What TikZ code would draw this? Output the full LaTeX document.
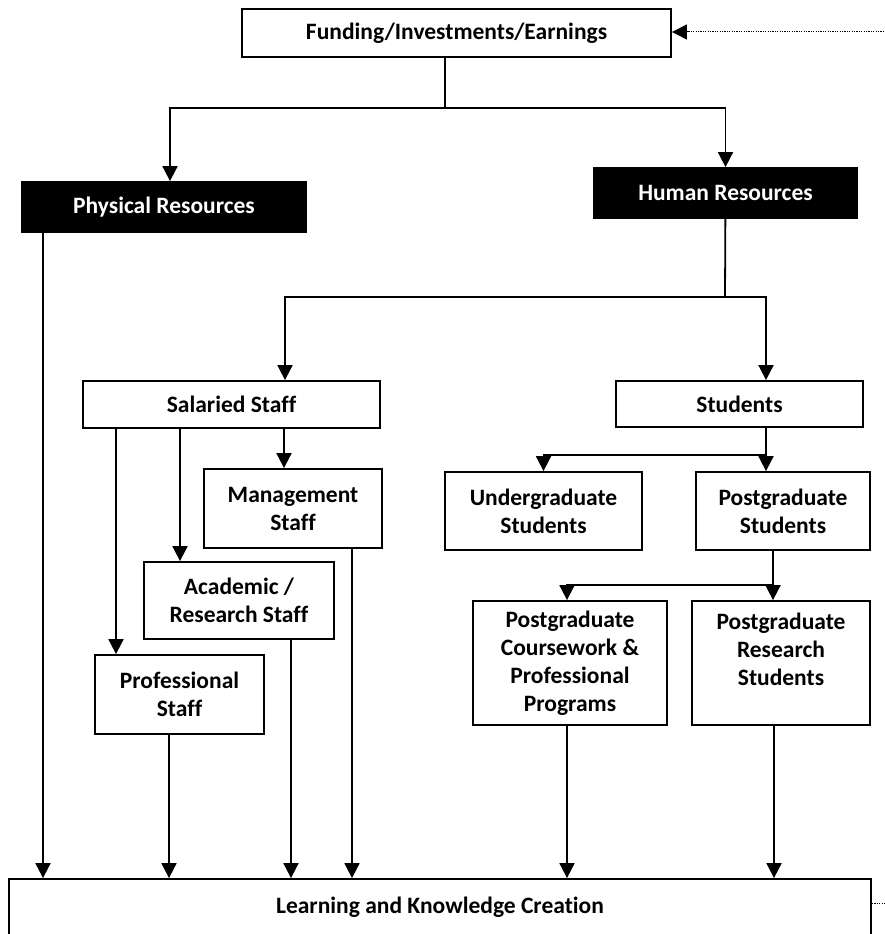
\documentclass[tikz,border=0pt]{standalone}
\usepackage{fontspec}
\setmainfont{Carlito}[Ligatures=NoCommon]
\usetikzlibrary{arrows.meta,positioning}

\tikzset{
	box/.style={draw=black, line width=1.8pt, align=center, inner sep=0pt, font=\bfseries\fontsize{23.5}{28}\selectfont},
	darkbox/.style={box, fill=black, text=white},
	arr/.style={line width=1.8pt, -{Triangle[length=15pt,width=15pt]}},
	link/.style={line width=1.8pt},
	dots/.style={line width=1pt, dash pattern=on 1.2pt off 1.2pt}
}

\begin{document}
\begin{tikzpicture}[x=1pt,y=-1pt]
	\useasboundingbox (0,0) rectangle (884,934);
	\node[box, minimum width=429, minimum height=48] (fund) at (456.5,33) {Funding/Investments/Earnings};
	\node[darkbox, minimum width=284, minimum height=50] (phys) at (164,207) {Physical Resources};
	\node[darkbox, minimum width=263, minimum height=50] (human) at (725.5,193) {Human Resources};
	\node[box, minimum width=297, minimum height=47] (sal) at (231.5,404.5) {Salaried Staff};
	\node[box, minimum width=247, minimum height=46] (stud) at (739.5,404) {Students};
	\node[box, minimum width=178, minimum height=79] (mgmt) at (293,508.5) {Management\\Staff};
	\node[box, minimum width=190, minimum height=77] (acad) at (239,600.5) {Academic /\\Research Staff};
	\node[box, minimum width=169, minimum height=79] (prof) at (179.5,694.5) {Professional\\Staff};
	\node[box, minimum width=197, minimum height=78] (ug) at (543.5,511) {Undergraduate\\Students};
	\node[box, minimum width=174, minimum height=78] (pg) at (783,511) {Postgraduate\\Students};
	\node[box, minimum width=194, minimum height=124] (pgc) at (570,663) {Postgraduate\\Coursework \&\\Professional\\Programs};
	\node[box, minimum width=178, minimum height=124] (pgr) at (781,663) {Postgraduate\\Research\\Students\\~};
	\node[box, minimum width=862, minimum height=56] (learn) at (440,907) {Learning and Knowledge Creation};
	\coordinate (t1) at (445,108);
	\coordinate (t2) at (725,297);
	\coordinate (s1) at (766,455);
	\coordinate (s2) at (773,585);
	\coordinate (e1) at (884,32);
	\coordinate (e2) at (884,903);
	\draw[link] (fund.south -| t1) -- (t1);
	\draw[arr] (t1) -| ([xshift=6pt]phys.north);
	\draw[arr] (t1) -| (human);
	\draw[link] (human) -- (t2);
	\draw[arr] (t2) -| ([xshift=53.5pt]sal.north);
	\draw[arr] (t2) -| ([xshift=26.5pt]stud.north);
	\draw[arr] ([xshift=-63.5pt]prof.north |- sal.south) -- ([xshift=-63.5pt]prof.north);
	\draw[arr] ([xshift=-59pt]acad.north |- sal.south) -- ([xshift=-59pt]acad.north);
	\draw[arr] ([xshift=-9pt]mgmt.north |- sal.south) -- ([xshift=-9pt]mgmt.north);
	\draw[link] (stud.south -| s1) -- (s1);
	\draw[arr] (s1) -| (ug);
	\draw[arr] (s1) -- (pg.north -| s1);
	\draw[link] (pg.south -| s2) -- (s2);
	\draw[arr] (s2) -| ([xshift=-3pt]pgc.north);
	\draw[arr] (s2) -- (pgr.north -| s2);
	\draw[arr] ([xshift=-121pt]phys.south) -- ([xshift=-121pt]phys.south |- learn.north);
	\draw[arr] ([xshift=-10.5pt]prof.south) -- ([xshift=-10.5pt]prof.south |- learn.north);
	\draw[arr] ([xshift=52pt]acad.south) -- ([xshift=52pt]acad.south |- learn.north);
	\draw[arr] ([xshift=59pt]mgmt.south) -- ([xshift=59pt]mgmt.south |- learn.north);
	\draw[arr] ([xshift=-3pt]pgc.south) -- ([xshift=-3pt]pgc.south |- learn.north);
	\draw[arr] ([xshift=-7pt]pgr.south) -- ([xshift=-7pt]pgr.south |- learn.north);
	\draw[dots, -{Triangle[length=15pt,width=15pt]}] (e1) -- (fund.east |- e1);
	\draw[dots] (learn.east |- e2) -- (e2);
\end{tikzpicture}
\end{document}
